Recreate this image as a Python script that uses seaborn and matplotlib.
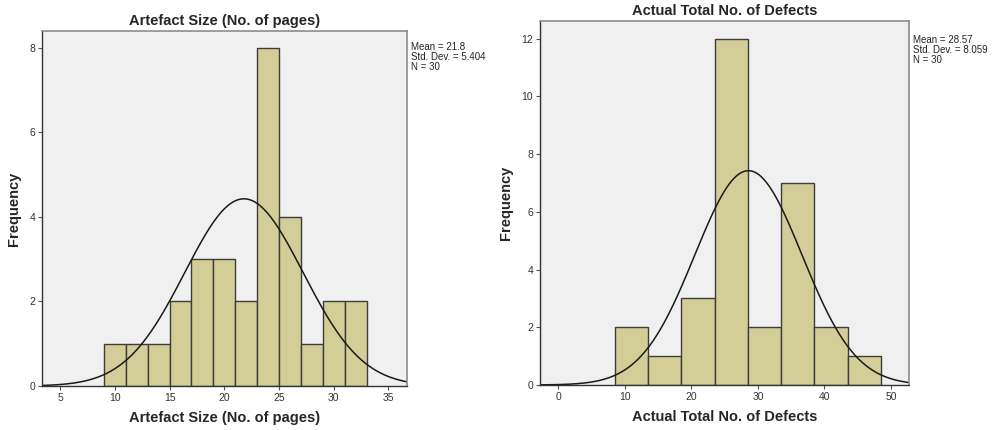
import numpy as np
import pandas as pd
import seaborn as sns
import matplotlib.pyplot as plt

# Artefact size histogram (bin width 2)
size_edges = [9, 11, 13, 15, 17, 19, 21, 23, 25, 27, 29, 31, 33]
size_counts = [1, 1, 1, 2, 3, 3, 2, 8, 4, 1, 2, 2]
size_mean, size_sd, size_n = 21.8, 5.404, 30

# Actual total defects histogram (bin width 5)
defect_edges = [8.5, 13.5, 18.5, 23.5, 28.5, 33.5, 38.5, 43.5, 48.5]
defect_counts = [2, 1, 3, 12, 2, 7, 2, 1]
defect_mean, defect_sd, defect_n = 28.57, 8.059, 30

sns.set_style('white')
plt.rcParams['font.family'] = ['Liberation Sans', 'DejaVu Sans']

fig = plt.figure(figsize=(9.93, 4.3), dpi=100)
ax1 = fig.add_axes([0.0423, 0.1023, 0.3676, 0.8256])
ax2 = fig.add_axes([0.5438, 0.1047, 0.3716, 0.8470])

bar_color = '#d3ce97'
edge_color = '#3c3c3c'


def draw_panel(ax, edges, counts, mean, sd, n, xlim, ylim, xticks, yticks, title, stats_y):
    e = np.array(edges, dtype=float)
    centers = (e[:-1] + e[1:]) / 2
    df = pd.DataFrame({'value': centers, 'count': counts})
    sns.histplot(data=df, x='value', weights='count', bins=list(edges), ax=ax,
                 color=bar_color, edgecolor=edge_color, linewidth=1.0, alpha=1)
    width = e[1] - e[0]
    xs = np.linspace(xlim[0], xlim[1], 400)
    ys = n * width * np.exp(-0.5 * ((xs - mean) / sd) ** 2) / (sd * np.sqrt(2 * np.pi))
    sns.lineplot(x=xs, y=ys, ax=ax, color='#1a1a1a', linewidth=1.1)
    ax.set_facecolor('#f0f0f0')
    ax.set_xlim(xlim)
    ax.set_ylim(ylim)
    ax.set_xticks(xticks)
    ax.set_yticks(yticks)
    ax.tick_params(axis='both', direction='out', length=3, width=0.8,
                   bottom=True, left=True,
                   labelsize=7.5, labelcolor='#333333', color='#555555', pad=2)
    for side in ['top', 'right']:
        ax.spines[side].set_color('#8c8c8c')
        ax.spines[side].set_linewidth(1.2)
    for side in ['left', 'bottom']:
        ax.spines[side].set_color('#333333')
        ax.spines[side].set_linewidth(1.0)
    ax.set_title(title, fontsize=10.5, fontweight='bold', pad=4)
    ax.set_xlabel(title, fontsize=10.5, fontweight='bold', labelpad=6)
    ax.set_ylabel('Frequency', fontsize=10.5, fontweight='bold', labelpad=6)
    ax.text(1.012, stats_y,
            'Mean = {}\nStd. Dev. = {}\nN = {}'.format(mean, sd, n),
            transform=ax.transAxes, fontsize=7, va='top', ha='left',
            color='#222222', linespacing=1.0)


draw_panel(ax1, size_edges, size_counts, size_mean, size_sd, size_n,
           (3.35, 36.7), (0, 8.4), [5, 10, 15, 20, 25, 30, 35], [0, 2, 4, 6, 8],
           'Artefact Size (No. of pages)', 0.97)
draw_panel(ax2, defect_edges, defect_counts, defect_mean, defect_sd, defect_n,
           (-2.75, 52.7), (0, 12.62), [0, 10, 20, 30, 40, 50], [0, 2, 4, 6, 8, 10, 12],
           'Actual Total No. of Defects', 0.96)

plt.savefig('out.png', dpi=100)
